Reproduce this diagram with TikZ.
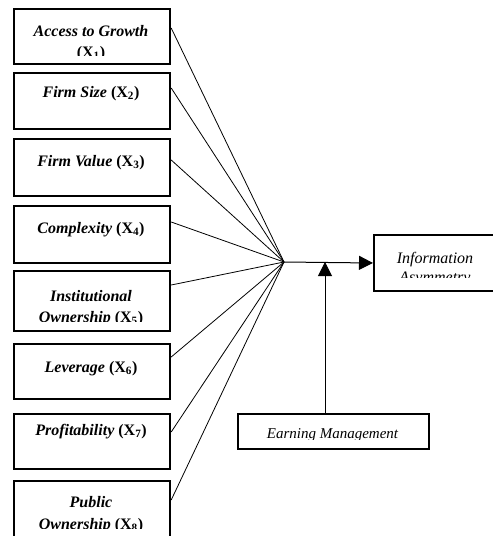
\documentclass[tikz,border=0pt]{standalone}
\usepackage{fontspec}
\setmainfont{Liberation Serif}
\usetikzlibrary{arrows.meta}

\tikzset{
  varbox/.style={draw, line width=2.2pt, minimum width=156pt, inner sep=0pt, anchor=north west},
  outbox/.style={draw, line width=2pt, inner sep=0pt, anchor=north west},
  vartext/.style={font=\fontsize{16}{19}\selectfont\bfseries\itshape, anchor=base, inner sep=0pt},
  outtext/.style={font=\fontsize{16}{19}\selectfont\itshape, anchor=base, inner sep=0pt},
  arr/.style={-{Triangle[length=14pt,width=14pt]}, line width=1pt},
}
\newcommand{\xsub}[1]{\textup{(X\textsubscript{#1})}}

\begin{document}
\begin{tikzpicture}[x=1pt, y=-1pt]
    \useasboundingbox (0,0) rectangle (493,536);
    \clip (0,0) rectangle (493,536);

    % independent variables
    \node[varbox, minimum height=55pt] (x1) at (13,8) {};
    \node[varbox, minimum height=56pt] (x2) at (13,72) {};
    \node[varbox, minimum height=57pt] (x3) at (13,138) {};
    \node[varbox, minimum height=57pt] (x4) at (13,205) {};
    \node[varbox, minimum height=60pt] (x5) at (13,270) {};
    \node[varbox, minimum height=55pt] (x6) at (13,343) {};
    \node[varbox, minimum height=55pt] (x7) at (13,413) {};
    \node[varbox, minimum height=80pt] (x8) at (13,480) {};

    \begin{scope}
        \clip (13,8) rectangle (169,55);
        \node[vartext] (t1) at (91,36) {Access to Growth};
        \node[vartext] (t1b) at (91,57) {\xsub{1}};
    \end{scope}
    \node[vartext] (t2) at (91,97) {Firm Size \xsub{2}};
    \node[vartext] (t3) at (91,166) {Firm Value \xsub{3}};
    \node[vartext] (t4) at (91,233) {Complexity \xsub{4}};
    \begin{scope}
        \clip (13,270) rectangle (169,321);
        \node[vartext] (t5) at (91,301) {Institutional};
        \node[vartext] (t5b) at (91,322) {Ownership \xsub{5}};
    \end{scope}
    \node[vartext] (t6) at (91,372) {Leverage \xsub{6}};
    \node[vartext] (t7) at (91,435) {Profitability \xsub{7}};
    \begin{scope}
        \clip (13,480) rectangle (169,528);
        \node[vartext] (t8) at (91,507) {Public};
        \node[vartext] (t8b) at (91,529) {Ownership \xsub{8}};
    \end{scope}

    \coordinate (hub) at (284,262);
    \foreach \i/\d in {1/20,2/16,3/22,4/17,5/15,6/14,7/19,8/20}
        \draw[line width=0.8pt] ([yshift=-\d pt]x\i.north east) -- (hub);

    % dependent variable
    \node[outbox, minimum width=140pt, minimum height=56pt] (info) at (373,234) {};
    \begin{scope}
        \clip (373,234) rectangle (500,277);
        \node[outtext] (ti) at (435,263) {Information};
        \node[outtext] (tib) at (435,282) {Asymmetry};
    \end{scope}
    \draw[arr] (hub) -- (info.west);

    % moderating variable
    \node[outbox, minimum width=191pt, minimum height=35pt] (em) at (237,413) {};
    \begin{scope}
        \clip (237,413) rectangle (428,439);
        \node[outtext, font=\fontsize{15}{18}\selectfont\itshape] (te) at (332.5,438) {Earning Management};
    \end{scope}
    \coordinate (meet) at (325,262);
    \draw[arr] (em.north -| meet) -- (meet);
\end{tikzpicture}
\end{document}
